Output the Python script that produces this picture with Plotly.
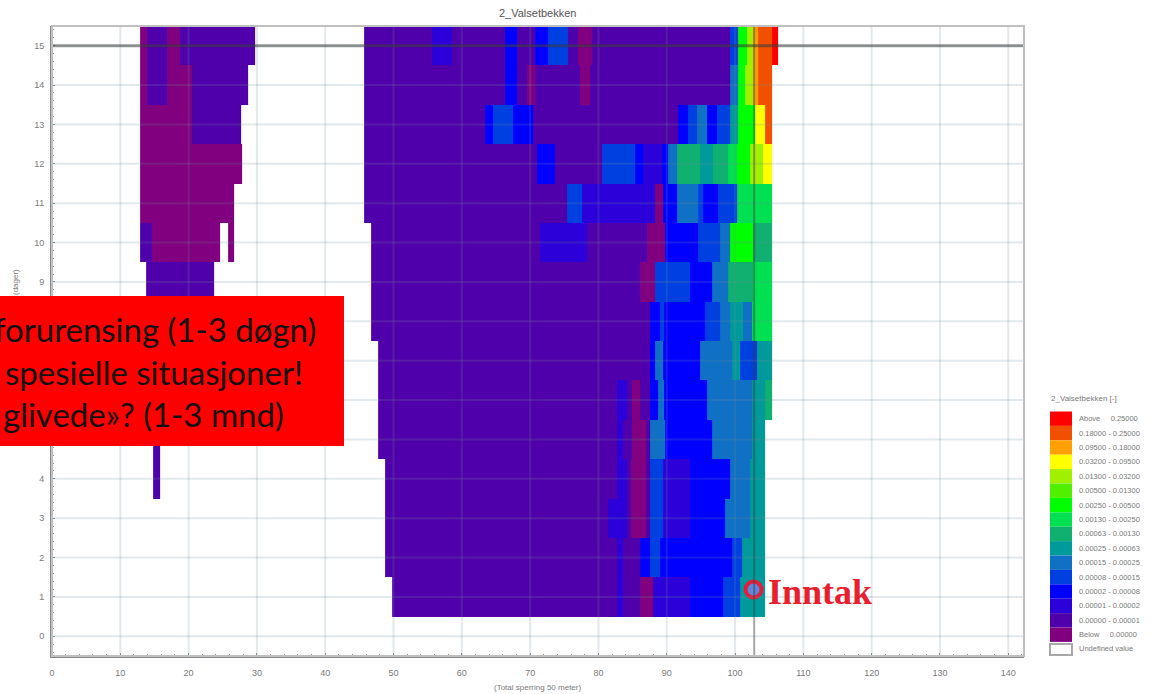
import plotly.graph_objects as go

# Class colours, class 0 = "Below" ... class 15 = "Above"
class_colors = ["#800080", "#5000aa", "#2c00d8", "#0000ff", "#0040e0", "#0f70c4", "#009a9a", "#10b070",
                "#00e050", "#00ff00", "#50f000", "#a0f000", "#ffff00", "#ffa000", "#f05000", "#ff0000"]
class_labels = ["Below     0.00000", "0.00000 - 0.00001", "0.00001 - 0.00002", "0.00002 - 0.00008",
                "0.00008 - 0.00015", "0.00015 - 0.00025", "0.00025 - 0.00063", "0.00063 - 0.00130",
                "0.00130 - 0.00250", "0.00250 - 0.00500", "0.00500 - 0.01300", "0.01300 - 0.03200",
                "0.03200 - 0.09500", "0.09500 - 0.18000", "0.18000 - 0.25000", "Above     0.25000"]
x_ticks = [0, 10, 20, 30, 40, 50, 60, 70, 80, 90, 100, 110, 120, 130, 140]
y_ticks = [0, 1, 2, 3, 4, 5, 6, 7, 8, 9, 10, 11, 12, 13, 14, 15]

# Each row: first x, then (x where the run ends, class of the run); None = no value
row_15 = [12.9, (13.9, 0), (16.8, 1), (18.7, 0), (29.7, 1), (45.7, None), (55.6, 1), (58.6, 2), (66.3, 1), (68.1, 3),
          (70.7, 1), (72.6, 3), (75.5, 4), (77.0, 1), (79.1, 0), (99.3, 1), (100.4, 4), (101.8, 9), (102.6, 11),
          (103.4, 13), (105.4, 14), (106.3, 15)]
row_14 = [12.9, (13.9, 0), (16.8, 1), (20.5, 0), (28.7, 1), (45.7, None), (66.3, 1), (68.1, 3), (69.5, 1), (70.7, 0),
          (77.3, 1), (78.8, 0), (99.3, 1), (100.4, 5), (101.5, 9), (102.6, 11), (103.4, 13), (105.4, 14)]
row_13 = [12.9, (20.5, 0), (27.7, 1), (45.7, None), (63.4, 1), (64.6, 3), (67.5, 4), (70.4, 3), (91.7, 1), (93.1, 3),
          (94.4, 4), (95.9, 5), (97.4, 3), (99.3, 4), (100.4, 6), (102.9, 9), (104.4, 12), (105.4, 14)]
row_12 = [12.9, (27.8, 0), (45.7, None), (71.0, 1), (73.6, 3), (80.5, 1), (85.4, 4), (86.5, 3), (89.3, 2), (90.2, 3),
          (91.5, 5), (94.9, 7), (96.8, 6), (99.0, 7), (100.3, 8), (102.2, 9), (104.1, 11), (105.4, 12)]
row_11 = [12.9, (26.6, 0), (45.7, None), (75.4, 1), (77.6, 4), (88.3, 2), (89.5, 0), (91.5, 3), (94.6, 5), (95.3, 4),
          (97.5, 3), (100.3, 4), (105.4, 8)]
row_10 = [12.9, (14.6, 1), (24.6, 0), (25.8, None), (26.6, 0), (46.7, None), (71.4, 1), (78.3, 2), (87.1, 1), (89.8, 0),
          (94.6, 3), (97.8, 4), (99.3, 5), (102.6, 9), (105.4, 7)]
row_9 = [13.8, (23.7, 1), (46.7, None), (86.1, 1), (88.3, 0), (93.4, 4), (96.6, 3), (99.0, 5), (102.6, 7), (105.4, 8)]
row_8 = [13.8, (23.7, 1), (46.7, None), (87.6, 1), (89.0, 3), (89.6, 4), (95.6, 3), (97.8, 4), (99.3, 5), (101.2, 6),
         (102.5, 5), (105.4, 8)]
row_7 = [14.8, (20.0, 1), (47.7, None), (87.6, 1), (88.3, 3), (89.5, 5), (94.9, 3), (99.6, 5), (100.7, 6), (103.2, 4),
         (105.4, 6)]
row_6 = [14.8, (17.0, 1), (47.7, None), (82.7, 1), (84.2, 2), (85.0, 1), (86.1, 0), (87.6, 1), (88.7, 3), (89.6, 5),
         (95.9, 3), (102.5, 5), (104.4, 6), (105.4, 7)]
row_5 = [14.8, (15.8, 1), (47.7, None), (82.7, 1), (83.6, 2), (85.0, 1), (87.0, 0), (87.6, 1), (89.8, 5), (96.6, 3),
         (102.5, 5), (104.4, 6)]
row_4 = [14.8, (15.8, 1), (48.8, None), (82.7, 1), (84.2, 2), (84.8, 1), (87.0, 0), (87.6, 1), (89.5, 4), (93.4, 2),
         (99.3, 3), (102.2, 5), (104.4, 6)]
row_3 = [48.8, (81.4, 1), (84.2, 2), (84.8, 1), (87.0, 0), (87.6, 1), (89.5, 4), (93.4, 2), (98.5, 3), (102.2, 5),
         (104.4, 6)]
row_2 = [48.8, (82.7, 1), (83.6, 2), (86.1, 1), (87.6, 3), (89.0, 4), (99.6, 3), (101.0, 4), (104.4, 6)]
row_1 = [49.8, (82.7, 1), (83.6, 2), (86.1, 1), (88.0, 0), (93.4, 2), (98.2, 3), (100.7, 4), (104.4, 6)]
rows = [row_1, row_2, row_3, row_4, row_5, row_6, row_7, row_8, row_9, row_10, row_11, row_12, row_13, row_14, row_15]
row_numbers = list(range(1, 16))

intake_x = [102.7]
intake_y = [1.19]
intake_line_x = 102.8
marked_level = 15

title_text = "2_Valsetbekken"
x_title_text = "(Total sperring 50 meter)"
y_title_text = "(dager)"
legend_title = "2_Valsetbekken [-]"
undefined_label = "Undefined value"
box_lines = ["forurensing (1-3 døgn)", "spesielle situasjoner!", "glivede»? (1-3 mnd)"]

W, H = 1158, 694
L, R, T, B = 52, 1024, 26, 656
px = lambda p: (p - L) / (R - L)
py = lambda p: (B - p) / (B - T)

edges = sorted({r[0] for r in rows} | {run[0] for r in rows for run in r[1:]})


def class_at(row, a, b):
    start = row[0]
    for end, cls in row[1:]:
        if start <= a and b <= end:
            return cls
        start = end
    return None


z = [[class_at(r, edges[i], edges[i + 1]) for i in range(len(edges) - 1)] for r in rows]
n = len(class_colors)
colorscale = []
for i, c in enumerate(class_colors):
    colorscale += [[i / n, c], [(i + 1) / n, c]]

fig = go.Figure()
fig.add_trace(go.Heatmap(x=edges, y=[v - 0.5 for v in row_numbers] + [15.5], z=z, colorscale=colorscale,
                         zmin=-0.5, zmax=15.5, showscale=False, hoverongaps=False))
fig.add_trace(go.Scatter(x=intake_x, y=intake_y, mode="markers", showlegend=False,
                         marker=dict(size=16, color="#5f86d8", line=dict(color="#e0203a", width=4))))

shapes = []
grid = "rgba(110,140,155,0.2)"
for t in x_ticks:
    shapes.append(dict(type="line", xref="x", yref="y", x0=t, x1=t, y0=-0.5, y1=15.5, layer="above",
                       line=dict(color=grid, width=2)))
for t in y_ticks:
    shapes.append(dict(type="line", xref="x", yref="y", x0=0, x1=142.3, y0=t, y1=t, layer="above",
                       line=dict(color=grid, width=2)))
shapes.append(dict(type="line", xref="x", yref="y", x0=0, x1=142.3, y0=marked_level, y1=marked_level, layer="above",
                   line=dict(color="rgba(50,50,50,0.5)", width=3)))
shapes.append(dict(type="line", xref="x", yref="y", x0=intake_line_x, x1=intake_line_x, y0=-0.5, y1=15.5,
                   layer="above", line=dict(color="rgba(60,60,60,0.45)", width=2)))
shapes.append(dict(type="rect", xref="paper", yref="paper", x0=0, x1=1, y0=0, y1=1, layer="above",
                   line=dict(color="#c0c0c0", width=2)))
# red box
shapes.append(dict(type="rect", xref="paper", yref="paper", x0=px(0), x1=px(344), y0=py(446), y1=py(296),
                   layer="above", fillcolor="#ff0000", line=dict(width=0)))

anns = []
text_grey = "#7a7a7a"


def note(text, x, y, size, color, family="Liberation Sans", xanchor="center", angle=0):
    anns.append(dict(text=text, xref="paper", yref="paper", x=px(x), y=py(y), xanchor=xanchor, yanchor="middle",
                     showarrow=False, textangle=angle, font=dict(family=family, size=size, color=color)))


note(title_text, 537, 13, 11, "#555555")
note(x_title_text, 537, 687, 8, text_grey)
note(y_title_text, 15, 282, 8, text_grey, angle=-90)
for line, right, cy in zip(box_lines, [318, 305, 286], [329, 372, 414]):
    note(line, right, cy, 33, "#111111", family="Lato", xanchor="right")
note("<b>Inntak</b>", 766, 592, 36, "#e8202e", family="Liberation Serif", xanchor="left")

# legend
note(legend_title, 1049, 398, 8, text_grey, xanchor="left")
top = 411.5
step = 14.4
for i, (c, lab) in enumerate(zip(class_colors[::-1], class_labels[::-1])):
    y0 = top + i * step
    shapes.append(dict(type="rect", xref="paper", yref="paper", x0=px(1050), x1=px(1072), y0=py(y0 + step), y1=py(y0),
                       fillcolor=c, line=dict(width=0), layer="above"))
    note(lab, 1077, y0 + step / 2, 7.5, text_grey, xanchor="left")
y0 = top + 16 * step + 2
shapes.append(dict(type="rect", xref="paper", yref="paper", x0=px(1050), x1=px(1072), y0=py(y0 + 11), y1=py(y0),
                   fillcolor="white", line=dict(color="#a8a8a8", width=2), layer="above"))
note(undefined_label, 1077, y0 + 5, 7.5, text_grey, xanchor="left")

fig.update_layout(width=W, height=H, margin=dict(l=L, r=W - R, t=T, b=H - B, pad=0), paper_bgcolor="white",
                  plot_bgcolor="white", shapes=shapes, annotations=anns, showlegend=False)
fig.update_xaxes(range=[0, 142.3], tickvals=x_ticks, showgrid=False, zeroline=False, showline=True, linecolor="#8a8a8a",
                 linewidth=2, ticks="inside", ticklen=3, tickcolor="#8a8a8a", ticklabelstandoff=7,
                 minor=dict(dtick=2, ticks="inside", ticklen=2, tickcolor="#9a9a9a"),
                 tickfont=dict(family="Liberation Sans", size=9, color=text_grey))
fig.update_yaxes(range=[-0.5, 15.5], tickvals=y_ticks, showgrid=False, zeroline=False, showline=True, linecolor="#8a8a8a",
                 linewidth=2, ticks="inside", ticklen=3, tickcolor="#8a8a8a", ticklabelstandoff=4,
                 minor=dict(dtick=0.2, ticks="inside", ticklen=2, tickcolor="#9a9a9a"),
                 tickfont=dict(family="Liberation Sans", size=9, color=text_grey))

fig.write_html("out.html", config=dict(displayModeBar=False),
               post_script="document.body.style.margin='0';document.documentElement.style.overflow='hidden';")
